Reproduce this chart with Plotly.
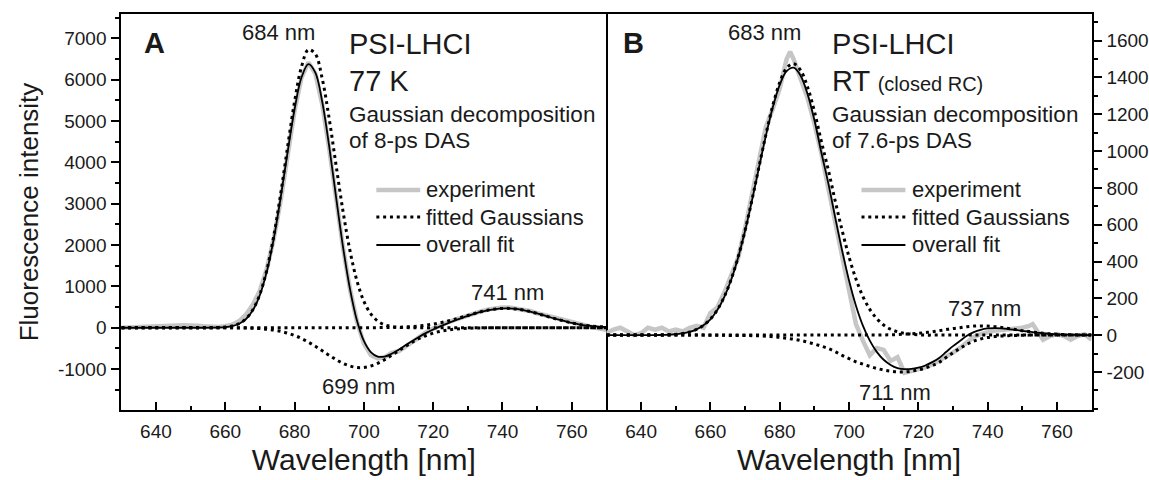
import plotly.graph_objects as go

# ---------------- data ----------------
wavelength = [630, 632, 634, 636, 638, 640, 642, 644, 646, 648, 650, 652, 654, 656, 658,
              660, 662, 664, 666, 668, 670, 672, 674, 676, 678, 680, 682, 684, 686, 688,
              690, 692, 694, 696, 698, 700, 702, 704, 706, 708, 710, 712, 714, 716, 718,
              720, 722, 724, 726, 728, 730, 732, 734, 736, 738, 740, 742, 744, 746, 748,
              750, 752, 754, 756, 758, 760, 762, 764, 766, 768, 770]

# Panel A: PSI-LHCI 77 K, 8-ps DAS
a_experiment = [0, 10, 20, 15, 20, 30, 35, 45, 55, 60, 65, 50, 35, 20, 20,
                35, 75, 160, 320, 560, 900, 1430, 2150, 3080, 4180, 5250, 6050, 6420, 6150, 5400,
                4330, 3120, 1930, 930, 150, -380, -660, -740, -715, -610, -570, -460, -340, -220, -110,
                -20, 60, 125, 185, 245, 295, 345, 400, 445, 475, 490, 490, 470, 445, 405,
                350, 305, 265, 225, 175, 125, 90, 55, 15, -20, -50]
a_gauss_684 = [0, 0, 0, 0, 0, 0, 0, 0, 0, 0, 0, 0, 0, 2, 6,
               17, 42, 100, 218, 439, 814, 1398, 2214, 3240, 4381, 5468, 6312, 6726, 6620, 6019,
               5054, 3921, 2808, 1860, 1136, 641, 335, 161, 72, 30, 11, 4, 0, 0, 0,
               0, 0, 0, 0, 0, 0, 0, 0, 0, 0, 0, 0, 0, 0, 0,
               0, 0, 0, 0, 0, 0, 0, 0, 0, 0, 0]
a_gauss_699 = [0, 0, 0, 0, 0, 0, 0, 0, 0, 0, 0, 0, 0, 0, 0,
               -1, -2, -4, -7, -12, -21, -35, -57, -88, -131, -188, -260, -348, -449, -557,
               -668, -773, -862, -926, -961, -961, -926, -862, -773, -668, -557, -449, -348, -260, -188,
               -131, -88, -57, -35, -21, -12, -7, -4, -2, -1, 0, 0, 0, 0, 0,
               0, 0, 0, 0, 0, 0, 0, 0, 0, 0, 0]
a_gauss_741 = [0, 0, 0, 0, 0, 0, 0, 0, 0, 0, 0, 0, 0, 0, 0,
               0, 0, 0, 0, 0, 0, 0, 0, 0, 0, 0, 0, 0, 0, 0,
               0, 0, 0, 0, 0, 1, 2, 3, 5, 8, 12, 20, 30, 44, 64,
               89, 120, 158, 201, 248, 297, 346, 391, 428, 454, 468, 468, 454, 428, 391,
               346, 297, 248, 201, 158, 115, 84, 58, 40, 27, 18]
a_overall = [0, 0, 0, 0, 0, 0, 0, 0, 0, 0, 0, 0, 0, 2, 6,
             16, 40, 96, 211, 427, 793, 1363, 2157, 3152, 4250, 5280, 6052, 6378, 6171, 5462,
             4386, 3148, 1946, 934, 175, -319, -589, -698, -696, -630, -534, -425, -318, -216, -124,
             -42, 32, 101, 166, 227, 285, 339, 387, 426, 453, 468, 468, 454, 428, 391,
             346, 297, 248, 201, 158, 115, 84, 58, 40, 27, 18]

# Panel B: PSI-LHCI RT (closed RC), 7.6-ps DAS
b_exp_wavelength = [630, 632, 634, 636, 638, 640, 642, 644, 646, 648, 650, 652, 654, 656, 658,
                    660, 662, 664, 666, 668, 670, 672, 674, 676, 678, 680, 682, 683, 684, 686,
                    688, 690, 692, 694, 696, 698, 700, 702, 704, 706, 708, 710, 712, 714, 716,
                    718, 720, 722, 724, 726, 728, 730, 732, 734, 736, 738, 740, 742, 744, 746,
                    748, 750, 752, 753, 756, 758, 760, 762, 764, 766, 768, 770]
b_experiment = [10, 30, 40, 20, 0, 10, 40, 30, 40, 20, 30, 20, 40, 50, 40,
                120, 150, 230, 330, 420, 580, 760, 950, 1130, 1230, 1340, 1500, 1540, 1500, 1400,
                1290, 1150, 990, 800, 610, 420, 230, 60, -30, -110, -70, -80, -140, -120, -205,
                -195, -190, -175, -160, -140, -115, -95, -70, -40, -10, 5, 15, 25, 28, 30,
                35, 40, 50, 60, -25, -5, 5, -5, -25, -5, 5, -25]
b_gauss_683 = [0, 0, 0, 0, 0, 0, 0, 0, 1, 2, 5, 9, 17, 31, 53,
               87, 137, 208, 303, 424, 569, 735, 913, 1088, 1247, 1372, 1451, 1475, 1440, 1350,
               1217, 1054, 900, 730, 570, 425, 305, 210, 140, 90, 55, 32, 18, 10, 5,
               2, 0, 0, 0, 0, 0, 0, 0, 0, 0, 0, 0, 0, 0, 0,
               0, 0, 0, 0, 0, 0, 0, 0, 0, 0, 0]
b_gauss_711 = [0, 0, 0, 0, 0, 0, 0, 0, 0, 0, 0, 0, 0, 0, 0,
               -1, -1, -1, -2, -2, -2, -3, -4, -6, -9, -12, -17, -22, -29, -38,
               -48, -60, -73, -90, -110, -128, -145, -158, -170, -181, -190, -196, -200, -200, -196,
               -189, -179, -165, -148, -122, -96, -72, -50, -33, -21, -13, -8, -5, -3, -2,
               -1, 0, 0, 0, 0, 0, 0, 0, 0, 0, 0]
b_gauss_737 = [0, 0, 0, 0, 0, 0, 0, 0, 0, 0, 0, 0, 0, 0, 0,
               0, 0, 0, 0, 0, 0, 0, 0, 0, 0, 0, 0, 0, 0, 0,
               0, 0, 0, 0, 0, 0, 0, 0, 0, 0, 1, 2, 3, 5, 7,
               10, 14, 18, 24, 30, 36, 40, 46, 49, 50, 49, 46, 42, 36, 30,
               24, 19, 14, 10, 7, 5, 3, 2, 1, 0, 0]
b_overall = [0, 0, 0, 0, 0, 0, 0, 0, 1, 2, 5, 9, 17, 31, 53,
             86, 136, 207, 301, 422, 567, 732, 909, 1082, 1238, 1360, 1434, 1453, 1411, 1312,
             1169, 994, 827, 640, 460, 297, 160, 52, -30, -91, -134, -162, -179, -185, -184,
             -177, -165, -147, -124, -92, -60, -32, -4, 16, 29, 36, 38, 37, 33, 28,
             23, 19, 14, 10, 7, 5, 3, 2, 1, 0, 0]

x_tickvals = [640, 660, 680, 700, 720, 740, 760]
x_ticktext = ['640', '660', '680', '700', '720', '740', '760']
a_tickvals = [-1000, 0, 1000, 2000, 3000, 4000, 5000, 6000, 7000]
a_ticktext = ['-1000', '0', '1000', '2000', '3000', '4000', '5000', '6000', '7000']
b_tickvals = [-200, 0, 200, 400, 600, 800, 1000, 1200, 1400, 1600]
b_ticktext = ['-200', '0', '200', '400', '600', '800', '1000', '1200', '1400', '1600']
legend_labels = ['experiment', 'fitted Gaussians', 'overall fit']

# ---------------- figure ----------------
W, H = 1149, 480
FONT = 'Liberation Sans, Arial, Helvetica, sans-serif'
TXT = '#1a1a1a'
GRAY = '#c6c6c6'
EXP_LINE = dict(color=GRAY, width=4.5)
GAUSS_LINE = dict(color='black', width=3, dash='3px,3.8px')
FIT_LINE = dict(color='black', width=1.8)


def px(x):
    return x / W


def py(y):
    return 1 - y / H


fig = go.Figure()


def add_panel(xa, ya, exp_x, exp_y, gaussians, overall):
    fig.add_trace(go.Scatter(x=exp_x, y=exp_y, xaxis=xa, yaxis=ya, mode='lines',
                             line=EXP_LINE, name=legend_labels[0], showlegend=False))
    for g in gaussians:
        fig.add_trace(go.Scatter(x=wavelength, y=g, xaxis=xa, yaxis=ya, mode='lines',
                                 line=dict(GAUSS_LINE, shape='spline'),
                                 name=legend_labels[1], showlegend=False))
    fig.add_trace(go.Scatter(x=wavelength, y=overall, xaxis=xa, yaxis=ya, mode='lines',
                             line=dict(FIT_LINE, shape='spline'),
                             name=legend_labels[2], showlegend=False))


add_panel('x', 'y', wavelength, a_experiment, [a_gauss_684, a_gauss_699, a_gauss_741], a_overall)
add_panel('x2', 'y2', b_exp_wavelength, b_experiment, [b_gauss_683, b_gauss_711, b_gauss_737], b_overall)

common_x = dict(range=[630, 770], tickmode='array', tickvals=x_tickvals, ticktext=x_ticktext,
                ticks='inside', ticklen=8, tickwidth=1.5, tickcolor='black',
                minor=dict(tickmode='linear', tick0=630, dtick=10, ticks='inside', ticklen=4,
                           tickwidth=1.5, tickcolor='black'),
                showline=True, linewidth=2, linecolor='black', mirror=True,
                showgrid=False, zeroline=False, ticklabelstandoff=3,
                tickfont=dict(size=19, color=TXT),
                title=dict(text='Wavelength [nm]', font=dict(size=30, color=TXT), standoff=8))

layout_x1 = dict(common_x, domain=[px(121.5), px(607.5)], anchor='y')
layout_x2 = dict(common_x, domain=[px(607.5), px(1093.5)], anchor='y2')

layout_y1 = dict(domain=[py(410), py(14)], range=[-1990, 7590], anchor='x',
                 tickmode='array', tickvals=a_tickvals, ticktext=a_ticktext,
                 ticks='outside', ticklen=8, tickwidth=1.5, tickcolor='black',
                 minor=dict(tickmode='linear', tick0=0, dtick=500, ticks='outside', ticklen=4,
                            tickwidth=1.5, tickcolor='black'),
                 showline=True, linewidth=2, linecolor='black', mirror=True,
                 showgrid=False, zeroline=False, ticklabelstandoff=1,
                 tickfont=dict(size=19, color=TXT),
                 title=dict(text='Fluorescence intensity', font=dict(size=26, color=TXT), standoff=12))

layout_y2 = dict(domain=[py(410), py(14)], range=[-407, 1745], anchor='x2', side='right',
                 tickmode='array', tickvals=b_tickvals, ticktext=b_ticktext,
                 ticks='outside', ticklen=8, tickwidth=1.5, tickcolor='black',
                 minor=dict(tickmode='linear', tick0=0, dtick=100, ticks='outside', ticklen=4,
                            tickwidth=1.5, tickcolor='black'),
                 showline=True, linewidth=2, linecolor='black', mirror=False,
                 showgrid=False, zeroline=False, ticklabelstandoff=1,
                 tickfont=dict(size=19, color=TXT))


def ann(x, y, text, size, xanchor='center', bold=False):
    if bold:
        text = '<b>' + text + '</b>'
    return dict(x=px(x), y=py(y), xref='paper', yref='paper', text=text, showarrow=False,
                xanchor=xanchor, yanchor='middle', font=dict(size=size, color=TXT, family=FONT))


annotations = [
    ann(155, 43, 'A', 29, bold=True),
    ann(279, 33, '684 nm', 22),
    ann(348, 44, 'PSI-LHCI', 29, 'left'),
    ann(348, 81, '77 K', 29, 'left'),
    ann(348, 114, 'Gaussian decomposition', 22.5, 'left'),
    ann(348, 141, 'of 8-ps DAS', 22.5, 'left'),
    ann(508, 292, '741 nm', 22),
    ann(359, 386, '699 nm', 22),
    ann(635, 43, 'B', 29, bold=True),
    ann(766, 33, '683 nm', 22),
    ann(831, 44, 'PSI-LHCI', 29, 'left'),
    ann(831, 81, 'RT <span style="font-size:20px">(closed RC)</span>', 29, 'left'),
    ann(831, 114, 'Gaussian decomposition', 22.5, 'left'),
    ann(831, 141, 'of 7.6-ps DAS', 22.5, 'left'),
    ann(986, 308, '737 nm', 22),
    ann(897, 392, '711 nm', 22),
]

# legend (drawn as key lines + labels, one per panel)
shapes = []
legend_rows = [190, 217, 245]
legend_styles = [EXP_LINE, GAUSS_LINE, FIT_LINE]
for x0, x1, xt in [(377, 421, 425), (863, 907, 912)]:
    for yy, st, lab in zip(legend_rows, legend_styles, legend_labels):
        shapes.append(dict(type='line', xref='paper', yref='paper', x0=px(x0), x1=px(x1),
                           y0=py(yy), y1=py(yy), line=st))
        annotations.append(ann(xt, yy, lab, 22, 'left'))

fig.update_layout(
    width=W, height=H,
    margin=dict(l=0, r=0, t=0, b=0),
    paper_bgcolor='white', plot_bgcolor='white',
    font=dict(family=FONT, size=19, color=TXT),
    xaxis=layout_x1, yaxis=layout_y1, xaxis2=layout_x2, yaxis2=layout_y2,
    annotations=annotations, shapes=shapes,
    showlegend=False,
)

fig.write_html('out.html')
